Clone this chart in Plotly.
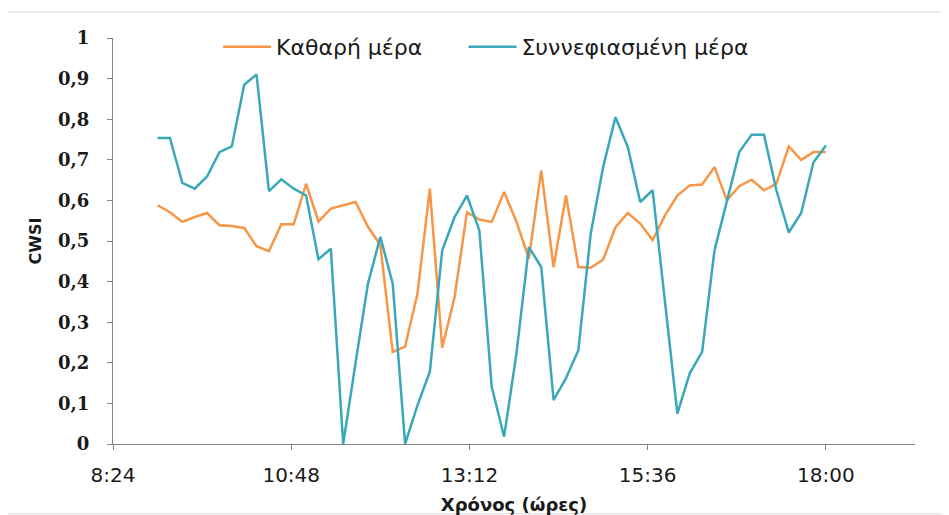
import pandas as pd
import plotly.graph_objects as go

# Sampling times: every 10 minutes, 9:00 to 18:00
times = pd.date_range("2000-01-01 09:00", "2000-01-01 18:00", freq="10min")

clear_day = [0.588, 0.571, 0.547, 0.559, 0.569, 0.539, 0.537, 0.532, 0.487, 0.475,
             0.541, 0.541, 0.641, 0.548, 0.580, 0.588, 0.596, 0.535, 0.490, 0.227,
             0.240, 0.370, 0.629, 0.237, 0.362, 0.571, 0.553, 0.547, 0.621, 0.547,
             0.457, 0.674, 0.436, 0.612, 0.436, 0.434, 0.454, 0.534, 0.569, 0.543,
             0.502, 0.563, 0.612, 0.637, 0.639, 0.682, 0.600, 0.635, 0.651, 0.625,
             0.641, 0.733, 0.700, 0.719, 0.719]

cloudy_day = [0.754, 0.754, 0.643, 0.629, 0.659, 0.719, 0.733, 0.885, 0.910, 0.623,
              0.652, 0.629, 0.612, 0.455, 0.481, 0.000, 0.200, 0.395, 0.510, 0.395,
              0.000, 0.095, 0.178, 0.477, 0.559, 0.612, 0.526, 0.141, 0.018, 0.223,
              0.485, 0.436, 0.108, 0.162, 0.231, 0.518, 0.682, 0.805, 0.731, 0.596,
              0.625, 0.350, 0.075, 0.174, 0.227, 0.477, 0.600, 0.719, 0.762, 0.762,
              0.625, 0.521, 0.569, 0.694, 0.735]

series_names = ["Καθαρή μέρα", "Συννεφιασμένη μέρα"]

x_tick_vals = ["2000-01-01 08:24", "2000-01-01 10:48", "2000-01-01 13:12",
               "2000-01-01 15:36", "2000-01-01 18:00"]
x_tick_text = ["8:24", "10:48", "13:12", "15:36", "18:00"]
y_tick_vals = [0, 0.1, 0.2, 0.3, 0.4, 0.5, 0.6, 0.7, 0.8, 0.9, 1]
y_tick_text = ["0", "0,1", "0,2", "0,3", "0,4", "0,5", "0,6", "0,7", "0,8", "0,9", "1"]

FONT = "DejaVu Sans"
SERIF = "DejaVu Serif"
TXT = "#1a1a1a"

fig = go.Figure()
fig.add_trace(go.Scatter(x=times, y=clear_day, mode="lines", name=series_names[0],
                         line=dict(color="#F79646", width=2.5), legend="legend"))
fig.add_trace(go.Scatter(x=times, y=cloudy_day, mode="lines", name=series_names[1],
                         line=dict(color="#3AA8BA", width=2.5), legend="legend2"))

# light chart frame
fig.add_shape(type="rect", xref="paper", yref="paper",
              x0=-0.1347, x1=1.039, y0=-0.172, y1=1.064,
              line=dict(color="#d9d9d9", width=1), fillcolor="rgba(0,0,0,0)", layer="below")

legend_common = dict(orientation="h", y=0.978, xanchor="left", yanchor="middle",
                     font=dict(size=22, family=FONT, color=TXT),
                     bgcolor="rgba(0,0,0,0)", itemwidth=48)

fig.update_layout(
    width=933, height=507,
    margin=dict(l=105, r=26, t=30, b=71, autoexpand=False),
    paper_bgcolor="white", plot_bgcolor="white",
    font=dict(family=FONT, color=TXT),
    showlegend=True,
    legend=dict(x=0.131, **legend_common),
    legend2=dict(x=0.437, **legend_common),
    xaxis=dict(
        range=["2000-01-01 08:24", "2000-01-01 19:12"],
        tickvals=x_tick_vals, ticktext=x_tick_text,
        showgrid=False, zeroline=False, automargin=False,
        showline=True, linecolor="#868686", linewidth=1,
        ticks="outside", ticklen=5, tickcolor="#868686",
        ticklabelstandoff=8,
        tickfont=dict(size=20, family=FONT, color=TXT),
        title=dict(text="<b>Χρόνος (ώρες)</b>", font=dict(size=18, family=FONT, color=TXT),
                   standoff=14),
    ),
    yaxis=dict(
        range=[0, 1],
        tickvals=y_tick_vals, ticktext=["<b>%s</b>" % t for t in y_tick_text],
        showgrid=False, zeroline=False, automargin=False,
        showline=True, linecolor="#868686", linewidth=1,
        ticks="outside", ticklen=5, tickcolor="#868686",
        ticklabelstandoff=14,
        tickfont=dict(size=18, family=SERIF, color=TXT),
        title=dict(text="<b>CWSI</b>", font=dict(size=16, family=FONT, color=TXT),
                   standoff=12),
    ),
)

fig.write_html("out.html")
